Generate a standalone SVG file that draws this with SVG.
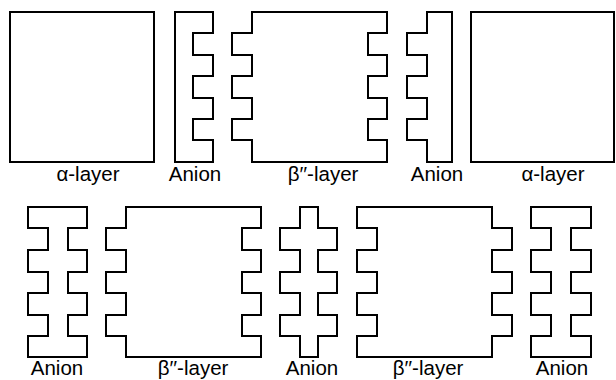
<svg xmlns="http://www.w3.org/2000/svg" width="616" height="380" viewBox="0 0 616 380">
<style>
.s{fill:#fff;stroke:#000;stroke-width:2;stroke-linejoin:miter}
.t{font-family:"Liberation Sans",Arial,sans-serif;font-size:20.5px;fill:#000;text-anchor:middle}
</style>
<rect width="616" height="380" fill="#fff"/>
<g id="alpha-top-1"><rect class="s" x="10" y="12" width="144" height="150"/><text class="t" x="88" y="181">α-layer</text></g>
<g id="anion-top-1"><path class="s" d="M175,12 H213 V33 H193 V55 H213 V76 H193 V98 H213 V119 H193 V140 H213 V162 H175 Z"/><text class="t" x="195" y="181">Anion</text></g>
<g id="beta-top"><path class="s" d="M252,12 H387 V33 H368 V55 H387 V76 H368 V98 H387 V119 H368 V140 H387 V162 H252 V140 H232 V119 H252 V98 H232 V76 H252 V55 H232 V33 H252 Z"/><text class="t" x="323" y="181">β′′-layer</text></g>
<g id="anion-top-2"><path class="s" d="M427,12 H452 V162 H427 V140 H407 V119 H427 V98 H407 V76 H427 V55 H407 V33 H427 Z"/><text class="t" x="437" y="181">Anion</text></g>
<g id="alpha-top-2"><rect class="s" x="471" y="12" width="143" height="150"/><text class="t" x="553" y="181">α-layer</text></g>
<g id="anion-bot-1"><path class="s" d="M28,207 H87 V228 H68 V250 H87 V272 H68 V293 H87 V315 H68 V336 H87 V357 H28 V336 H48 V315 H28 V293 H48 V272 H28 V250 H48 V228 H28 Z"/><text class="t" x="57" y="375">Anion</text></g>
<g id="beta-bot-1"><path class="s" d="M126,207 H261 V228 H242 V250 H261 V272 H242 V293 H261 V315 H242 V336 H261 V357 H126 V336 H106 V315 H126 V293 H106 V272 H126 V250 H106 V228 H126 Z"/><text class="t" x="193" y="375">β′′-layer</text></g>
<g id="anion-bot-2"><path class="s" d="M300,207 H318 V228 H337 V250 H318 V272 H337 V293 H318 V315 H337 V336 H318 V357 H300 V336 H280 V315 H300 V293 H280 V272 H300 V250 H280 V228 H300 Z"/><text class="t" x="312" y="375">Anion</text></g>
<g id="beta-bot-2"><path class="s" d="M357,207 H492 V228 H512 V250 H492 V272 H512 V293 H492 V315 H512 V336 H492 V357 H357 V336 H377 V315 H357 V293 H377 V272 H357 V250 H377 V228 H357 Z"/><text class="t" x="428" y="375">β′′-layer</text></g>
<g id="anion-bot-3"><path class="s" d="M531,207 H591 V228 H571 V250 H591 V272 H571 V293 H591 V315 H571 V336 H591 V357 H531 V336 H551 V315 H531 V293 H551 V272 H531 V250 H551 V228 H531 Z"/><text class="t" x="562" y="375">Anion</text></g>
</svg>
